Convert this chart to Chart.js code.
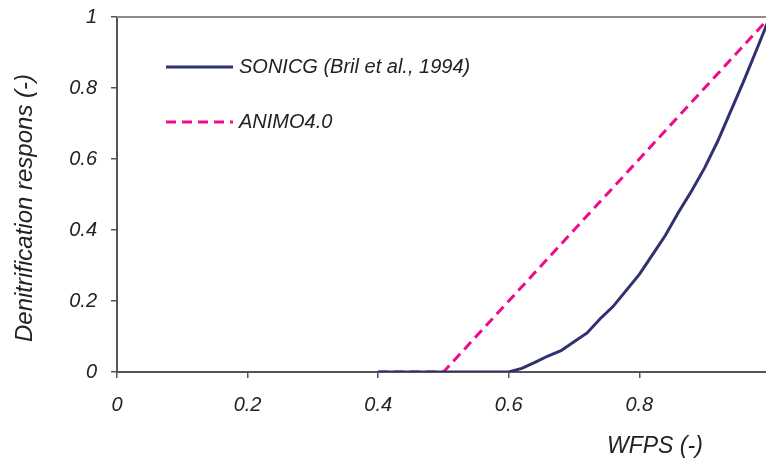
<!DOCTYPE html>
<html>
<head>
<meta charset="utf-8">
<script src="https://cdn.jsdelivr.net/npm/chart.js@4"></script>
<style>
  html, body { margin: 0; padding: 0; background: #fff; }
  #wrap { width: 766px; height: 464px; }
</style>
</head>
<body>
<div id="wrap"><canvas id="chart" width="766" height="464"></canvas></div>
<script>
// WFPS values (x) shared by both curves
const wfps = [0.40, 0.42, 0.44, 0.46, 0.48, 0.50, 0.52, 0.54, 0.56, 0.58, 0.60,
              0.62, 0.64, 0.66, 0.68, 0.70, 0.72, 0.74, 0.76, 0.78, 0.80,
              0.82, 0.84, 0.86, 0.88, 0.90, 0.92, 0.94, 0.96, 0.98, 1.00];

// SONICG (Bril et al., 1994) response
const sonicg = [0, 0, 0, 0, 0, 0, 0, 0, 0, 0, 0,
                0.01, 0.027, 0.045, 0.06, 0.085, 0.11, 0.15, 0.185, 0.23, 0.275,
                0.33, 0.385, 0.45, 0.51, 0.575, 0.65, 0.735, 0.82, 0.91, 1.0];

// ANIMO4.0 response
const animo = [0, 0, 0, 0, 0, 0, 0.04, 0.08, 0.12, 0.16, 0.2,
               0.24, 0.28, 0.32, 0.36, 0.4, 0.44, 0.48, 0.52, 0.56, 0.6,
               0.64, 0.68, 0.72, 0.76, 0.8, 0.84, 0.88, 0.92, 0.96, 1.0];

const xTicks = [0, 0.2, 0.4, 0.6, 0.8];
const yTicks = [0, 0.2, 0.4, 0.6, 0.8, 1];

const seriesLabels = ['SONICG (Bril et al., 1994)', 'ANIMO4.0'];
const xTitle = 'WFPS (-)';
const yTitle = 'Denitrification respons (-)';

const navy = '#2f3170';
const pink = '#ef0a8c';
const fontFam = '"Liberation Sans", Arial, sans-serif';

// Legend, axis titles and top frame line
const decorations = {
  id: 'decorations',
  afterDraw(chart) {
    const ctx = chart.ctx;
    const area = chart.chartArea;
    ctx.save();

    // top frame line
    ctx.strokeStyle = '#8c8c8c';
    ctx.lineWidth = 2;
    ctx.beginPath();
    ctx.moveTo(area.left, area.top);
    ctx.lineTo(area.right, area.top);
    ctx.stroke();

    // legend
    const items = chart.data.datasets;
    const legendY = [67, 122];
    ctx.font = 'italic 20px ' + fontFam;
    ctx.textBaseline = 'middle';
    ctx.fillStyle = '#222';
    items.forEach((ds, i) => {
      ctx.strokeStyle = ds.borderColor;
      ctx.lineWidth = 3;
      ctx.setLineDash(ds.borderDash || []);
      ctx.beginPath();
      ctx.moveTo(166, legendY[i]);
      ctx.lineTo(233, legendY[i]);
      ctx.stroke();
      ctx.setLineDash([]);
      ctx.fillText(ds.label, 239, legendY[i]);
    });

    // x title
    ctx.font = 'italic 23px ' + fontFam;
    ctx.textAlign = 'left';
    ctx.textBaseline = 'middle';
    ctx.fillText(xTitle, 607, 447);

    // y title
    ctx.font = 'italic 24px ' + fontFam;
    ctx.translate(25, 208);
    ctx.rotate(-Math.PI / 2);
    ctx.textAlign = 'center';
    ctx.fillText(yTitle, 0, 0);

    ctx.restore();
  }
};

window.onload = function () {
  const ctx = document.getElementById('chart').getContext('2d');
  new Chart(ctx, {
    type: 'line',
    data: {
      datasets: [{
        label: seriesLabels[0],
        data: wfps.map((x, i) => ({ x: x, y: sonicg[i] })),
        borderColor: navy,
        borderWidth: 3,
        pointRadius: 0,
        tension: 0
      }, {
        label: seriesLabels[1],
        data: wfps.map((x, i) => ({ x: x, y: animo[i] })),
        borderColor: pink,
        borderWidth: 3,
        borderDash: [10, 6],
        pointRadius: 0,
        tension: 0
      }]
    },
    options: {
      responsive: false,
      animation: false,
      layout: { padding: { top: 17, right: 0, left: 0, bottom: 0 } },
      plugins: {
        legend: { display: false },
        tooltip: { enabled: false }
      },
      scales: {
        x: {
          type: 'linear',
          min: 0,
          max: 0.994,
          afterBuildTicks: function (scale) {
            scale.ticks = xTicks.map(v => ({ value: v }));
          },
          afterFit: function (scale) {
            scale.height = 92;
            scale.paddingLeft = 0;
            scale.paddingRight = 0;
          },
          grid: { drawOnChartArea: false, drawTicks: true, tickLength: 6, color: '#555', lineWidth: 1.5 },
          border: { display: true, color: '#555', width: 2 },
          ticks: {
            padding: 15,
            color: '#222',
            font: { family: fontFam, size: 20, style: 'italic' },
            callback: v => String(+v.toFixed(1))
          }
        },
        y: {
          min: 0,
          max: 1,
          afterBuildTicks: function (scale) {
            scale.ticks = yTicks.map(v => ({ value: v }));
          },
          afterFit: function (scale) {
            scale.width = 117;
            scale.paddingTop = 0;
            scale.paddingBottom = 0;
          },
          grid: { drawOnChartArea: false, drawTicks: true, tickLength: 6, color: '#555', lineWidth: 1.5 },
          border: { display: true, color: '#555', width: 2 },
          ticks: {
            padding: 14,
            color: '#222',
            font: { family: fontFam, size: 20, style: 'italic' },
            callback: v => String(+v.toFixed(1))
          }
        }
      }
    },
    plugins: [decorations]
  });
};
</script>
</body>
</html>
